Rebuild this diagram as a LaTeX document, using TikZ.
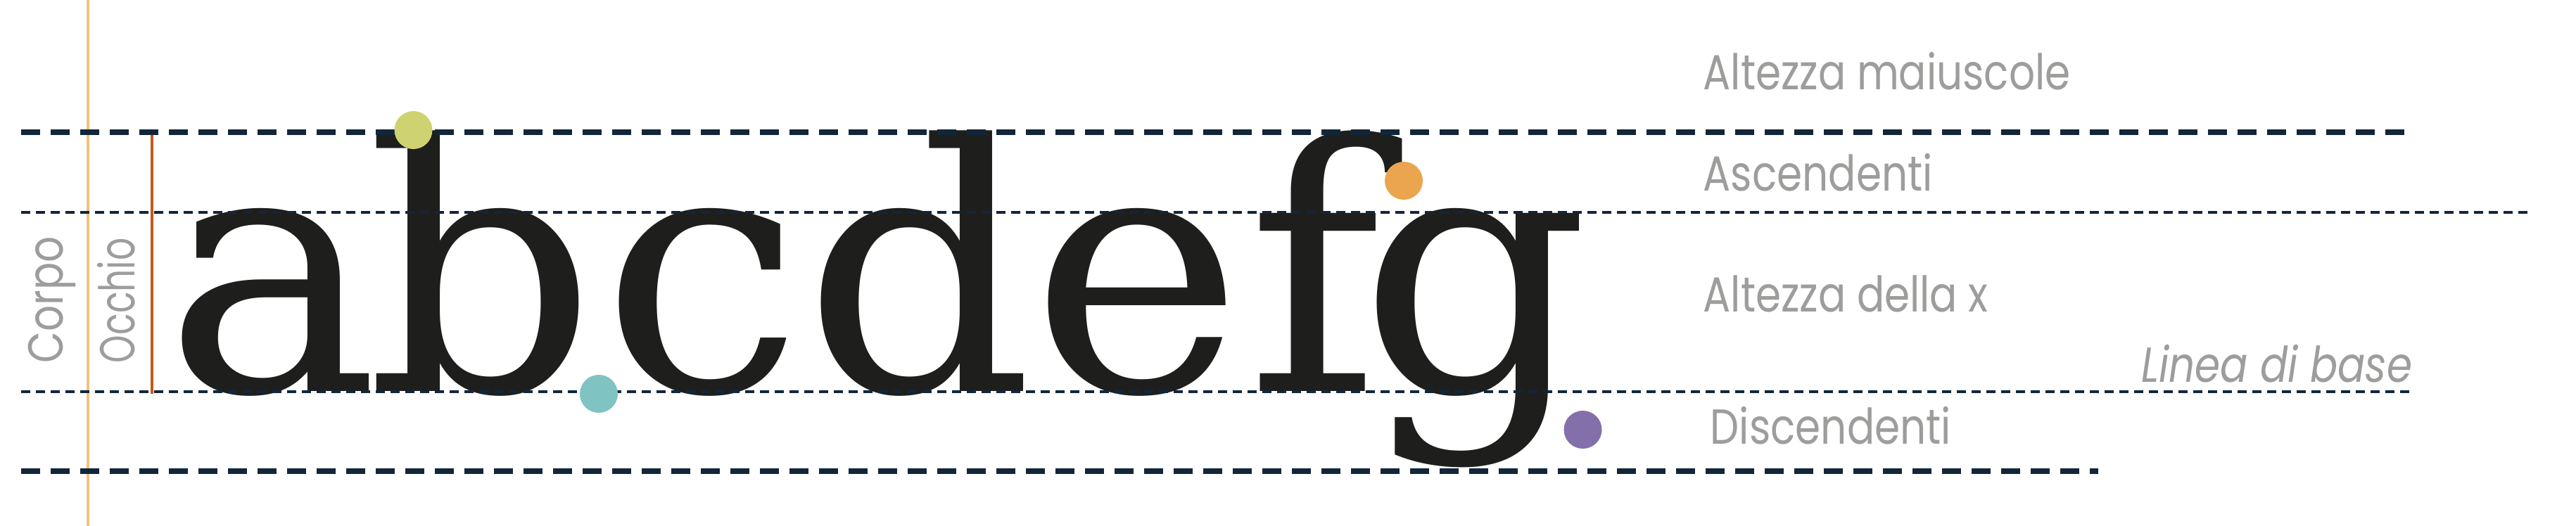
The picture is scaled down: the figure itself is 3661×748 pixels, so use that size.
\documentclass[tikz,border=0pt]{standalone}
\usepackage{fontspec}
\newfontfamily\labfont{Poppins}[FakeStretch=0.83]
\newfontfamily\labfontn{Poppins}[FakeStretch=0.72]
\newfontfamily\glyphfont{DejaVu Serif}[FakeStretch=1.05]
\definecolor{ink}{HTML}{1E1E1C}
\definecolor{navy}{HTML}{12263A}
\definecolor{labgrey}{HTML}{9D9D9C}
\definecolor{lightorange}{HTML}{F2C17F}
\definecolor{rust}{HTML}{C55A1C}
\definecolor{dotgreen}{HTML}{CFD271}
\definecolor{dotteal}{HTML}{80C3C3}
\definecolor{dotorange}{HTML}{EBA54E}
\definecolor{dotpurple}{HTML}{836FA9}
\begin{document}
\begin{tikzpicture}[x=0.25pt,y=-0.25pt,
  glyph/.style={font=\glyphfont\fontsize{122}{122}\selectfont, text=ink, inner sep=0pt, anchor=base},
  lab/.style={font=\labfont\fontsize{17.5}{18}\selectfont, text=labgrey, inner sep=0pt},
  thickdash/.style={navy, line width=2pt, dash pattern=on 6.75pt off 3.75pt},
  thindash/.style={navy, line width=1pt, dash pattern=on 3.25pt off 2pt},
  dot/.style={circle, inner sep=0pt, minimum size=13.5pt}]
\useasboundingbox (0,0) rectangle (3661,748);
\fill[white] (0,0) rectangle (3661,748);
% vertical guides
\coordinate (vtop) at (125,0);
\coordinate (vbot) at (125,748);
\draw[lightorange, line width=1.2pt] (vtop) -- (vbot);
\coordinate (otop) at (216,192);
\coordinate (obot) at (216,560);
\draw[rust, line width=0.9pt] (otop) -- (obot);
% glyphs
\node[glyph] (ga) at (386,556) {a};
\node[glyph] (gb) at (684,556) {b};
\node[glyph] (gc) at (998,556) {c};
\node[glyph] (gd) at (1305,556) {d};
\node[glyph] (ge) at (1616,556) {e};
\node[glyph] (gf) at (1867,556) {f};
\node[glyph] (gg) at (2095,556) {g};
% guide lines
\coordinate (capL) at (30,188);  \coordinate (capR) at (3421,188);
\coordinate (xhL) at (30,302);   \coordinate (xhR) at (3592,302);
\coordinate (baseL) at (30,557); \coordinate (baseR) at (3428,557);
\coordinate (descL) at (30,670); \coordinate (descR) at (2982,670);
\draw[thickdash] (capL) -- (capR);
\draw[thindash] (xhL) -- (xhR);
\draw[thindash] (baseL) -- (baseR);
\draw[thickdash] (descL) -- (descR);
% dots
\node[dot, fill=dotgreen] (dg) at (587.5,185) {};
\node[dot, fill=dotteal] (dt) at (851,560) {};
\node[dot, fill=dotorange] (do) at (1995,257) {};
\node[dot, fill=dotpurple] (dp) at (2249.5,611) {};
% labels
\node[lab, rotate=90, anchor=base west] (corpo) at (89,517) {Corpo};
\node[lab, rotate=90, anchor=base west, font=\labfontn\fontsize{17.5}{18}\selectfont] (occhio) at (191,517) {Occhio};
\node[lab, anchor=base west] (lcap) at (2420,128) {Altezza maiuscole};
\node[lab, anchor=base west] (lasc) at (2420,271) {Ascendenti};
\node[lab, anchor=base west] (lxh) at (2420,443) {Altezza della x};
\node[lab, anchor=base east, font=\labfont\itshape\fontsize{17.5}{18}\selectfont] (lbase) at (3429,543) {Linea di base};
\node[lab, anchor=base west] (ldesc) at (2430,631) {Discendenti};
\end{tikzpicture}
\end{document}
